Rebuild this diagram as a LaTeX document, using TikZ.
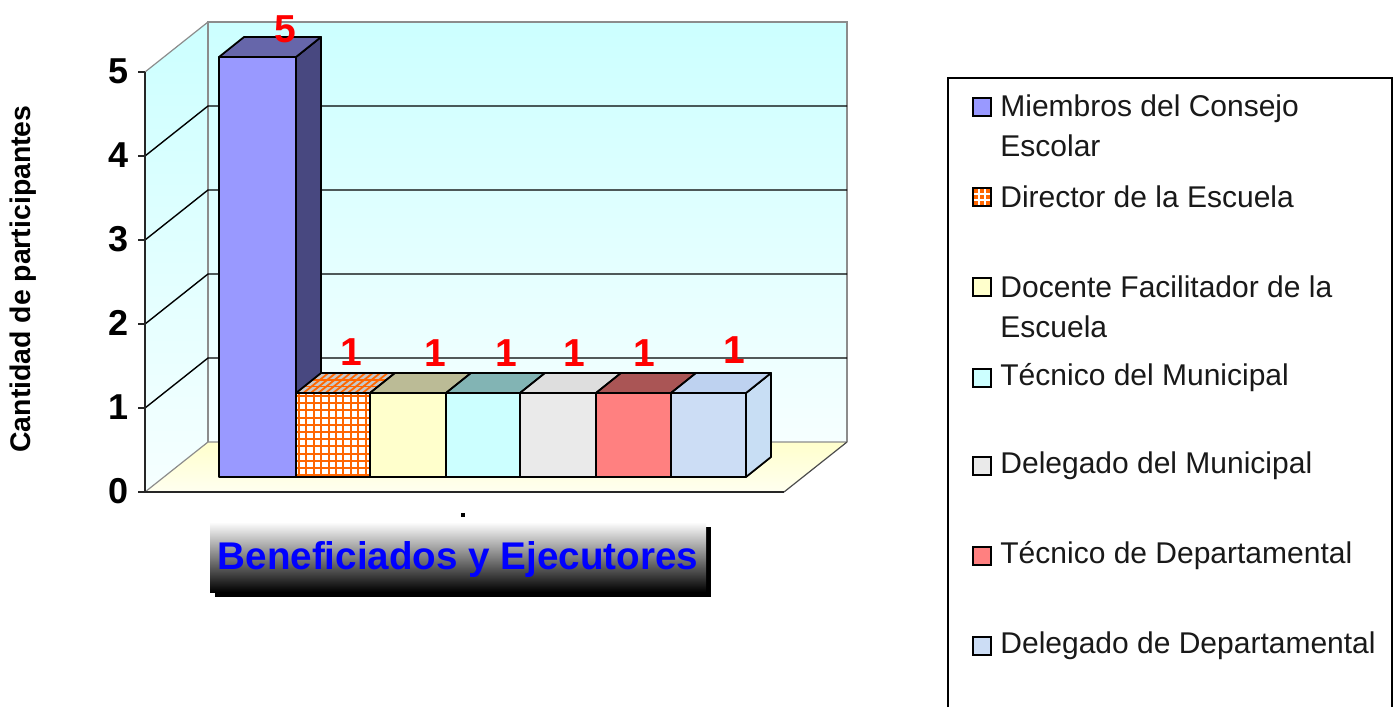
\documentclass[tikz,border=0pt]{standalone}
\usepackage{fontspec}
\setmainfont{Liberation Sans}
\definecolor{wallcyan}{RGB}{204,255,255}
\definecolor{wallpale}{RGB}{246,255,255}
\definecolor{flooryel}{RGB}{255,255,204}
\definecolor{floorpale}{RGB}{255,255,240}
\definecolor{edgegray}{RGB}{140,140,140}
\definecolor{bAfront}{RGB}{153,153,255}
\definecolor{bAtop}{RGB}{102,102,170}
\definecolor{bAside}{RGB}{72,72,128}
\definecolor{gridor}{RGB}{255,102,0}
\definecolor{bBtop}{RGB}{200,200,200}
\definecolor{bCfront}{RGB}{255,255,204}
\definecolor{bCtop}{RGB}{187,187,150}
\definecolor{bDfront}{RGB}{204,255,255}
\definecolor{bDtop}{RGB}{130,180,180}
\definecolor{bEfront}{RGB}{234,234,234}
\definecolor{bEtop}{RGB}{222,222,222}
\definecolor{bFfront}{RGB}{255,128,128}
\definecolor{bFtop}{RGB}{170,85,85}
\definecolor{bGfront}{RGB}{204,221,245}
\definecolor{bGtop}{RGB}{190,210,240}
\definecolor{bGside}{RGB}{200,222,244}
\definecolor{titleblue}{RGB}{0,0,255}
\newcommand\drawbar[6]{%
  \filldraw[barline,fill=#6] (#2,#3) -- (#2+25,#3-20) -- (#2+25,457) -- (#2,477) -- cycle;
  \filldraw[barline,fill=#5] (#1,#3) -- (#1+25,#3-20) -- (#2+25,#3-20) -- (#2,#3) -- cycle;
  \filldraw[barline,fill=#4] (#1,#3) rectangle (#2,477);
}
\begin{document}
\begin{tikzpicture}[x=0.5pt,y=-0.5pt,
  barline/.style={draw=black,line width=0.9pt,line join=round},
  edge/.style={draw=edgegray,line width=0.6pt},
  gridln/.style={draw=black,line width=0.7pt},
  axisline/.style={draw=black!85,line width=0.9pt},
  ylab/.style={font=\bfseries\fontsize{18}{18}\selectfont,inner sep=0pt},
  vallab/.style={font=\bfseries\fontsize{19.5}{19.5}\selectfont,text=red,inner sep=0pt,anchor=base},
  legtext/.style={font=\fontsize{15}{20}\selectfont,inner sep=0pt,anchor=west,align=left,text=black!90},
  legmark/.style={draw=black,line width=0.7pt}]
\useasboundingbox (0,0) rectangle (1397,707);
\fill[white] (0,0) rectangle (1397,707);
% walls and floor
\shade[top color=wallcyan,bottom color=wallpale] (208,22) rectangle (847,442);
\shade[top color=wallcyan,bottom color=wallpale] (145,72) -- (208,22) -- (208,442) -- (145,492) -- cycle;
\shade[top color=flooryel,bottom color=floorpale] (145,492) -- (208,442) -- (847,442) -- (784,492) -- cycle;
\draw[edge] (208,442) -- (208,22) -- (847,22) -- (847,442);
\draw[edge] (145,72) -- (208,22);
\draw[edge] (145,492) -- (208,442) -- (847,442);
\draw[edge,draw=black!70] (847,442) -- (784,492);
\foreach \v in {1,...,4}
  \draw[gridln] (145,492-84*\v) -- (208,442-84*\v) -- (847,442-84*\v);
\draw[axisline] (145,492) -- (784,492);
\draw[axisline] (145,72) -- (145,492);
\foreach \v in {0,...,5} {
  \draw[axisline] (138,492-84*\v) -- (145,492-84*\v);
  \node[ylab] (y\v) at (119,491-84*\v) {\v};
}
\node[font=\bfseries\fontsize{14.2}{14.2}\selectfont,rotate=90,inner sep=0pt] (ytitle) at (23,279) {Cantidad de participantes};
% bars
\drawbar{219}{296}{57}{bAfront}{bAtop}{bAside}
% bar 2 with orange grid
\filldraw[barline,fill=white] (370,393) -- (395,373) -- (395,457) -- (370,477) -- cycle;
\begin{scope}
  \clip (296,393) -- (321,373) -- (395,373) -- (370,393) -- cycle;
  \fill[bBtop] (290,370) rectangle (400,400);
  \foreach \k in {0,...,12} \draw[gridor,line width=0.9pt] (296+7.4*\k,393) -- ++(25,-20);
  \foreach \k in {0,...,3} \draw[gridor,line width=0.9pt] (290,393-6.5*\k) -- (400,393-6.5*\k);
\end{scope}
\draw[barline] (296,393) -- (321,373) -- (395,373) -- (370,393) -- cycle;
\begin{scope}
  \clip (296,393) rectangle (370,477);
  \fill[white] (296,393) rectangle (370,477);
  \foreach \k in {0,...,10} \draw[gridor,line width=1pt] (299+7.4*\k,393) -- (299+7.4*\k,477);
  \foreach \k in {0,...,11} \draw[gridor,line width=1pt] (296,396+7.2*\k) -- (370,396+7.2*\k);
\end{scope}
\draw[barline] (296,393) rectangle (370,477);
\drawbar{370}{446}{393}{bCfront}{bCtop}{bCfront}
\drawbar{446}{520}{393}{bDfront}{bDtop}{bDfront}
\drawbar{520}{596}{393}{bEfront}{bEtop}{bEfront}
\drawbar{596}{671}{393}{bFfront}{bFtop}{bFfront}
\drawbar{671}{746}{393}{bGfront}{bGtop}{bGside}
% value labels
\node[vallab] (v1) at (285,42) {5};
\node[vallab] (v2) at (351,365) {1};
\node[vallab] (v3) at (435,366) {1};
\node[vallab] (v4) at (506,366) {1};
\node[vallab] (v5) at (574,366) {1};
\node[vallab] (v6) at (644,366) {1};
\node[vallab] (v7) at (734,363) {1};
% x axis mark
\fill[black] (461,513) rectangle (465,517);
% title box
\fill[black] (215,527) rectangle (711,597);
\shade[top color=white,middle color=black!25,bottom color=black] (210,522) rectangle (706,592);
\node[font=\bfseries\fontsize{19.3}{19.3}\selectfont,text=titleblue,inner sep=0pt,anchor=base] (title) at (458,569) {Beneficiados y Ejecutores};
% legend
\draw[black,line width=0.9pt] (948,707) -- (948,78) -- (1392,78) -- (1392,707);
\filldraw[legmark,fill=bAfront] (973,98) rectangle (991,116);
\node[legtext] (l1) at (1000,126) {Miembros del Consejo\\Escolar};
\filldraw[legmark,fill=gridor] (973,188) rectangle (991,206);
\draw[white,line width=0.6pt] (979,188) -- (979,206) (985,188) -- (985,206) (973,194) -- (991,194) (973,200) -- (991,200);
\draw[legmark] (973,188) rectangle (991,206);
\node[legtext] (l2) at (1000,197) {Director de la Escuela};
\filldraw[legmark,fill=bCfront] (973,278) rectangle (991,296);
\node[legtext] (l3) at (1000,307) {Docente Facilitador de la\\Escuela};
\filldraw[legmark,fill=bDfront] (973,369) rectangle (991,387);
\node[legtext] (l4) at (1000,378) {Técnico del Municipal};
\filldraw[legmark,fill=bEfront] (973,457) rectangle (991,475);
\node[legtext] (l5) at (1000,466) {Delegado del Municipal};
\filldraw[legmark,fill=bFfront] (973,547) rectangle (991,565);
\node[legtext] (l6) at (1000,556) {Técnico de Departamental};
\filldraw[legmark,fill=bGfront] (973,637) rectangle (991,655);
\node[legtext] (l7) at (1000,646) {Delegado de Departamental};
\end{tikzpicture}
\end{document}
